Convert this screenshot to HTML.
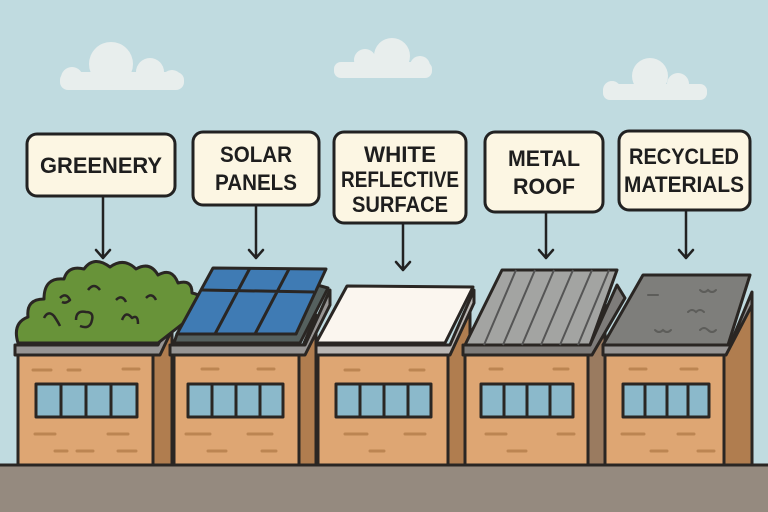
<!DOCTYPE html>
<html><head><meta charset="utf-8"><style>
html,body{margin:0;padding:0;width:768px;height:512px;overflow:hidden;background:#c0dbe0}
svg{display:block}
text{font-family:"Liberation Sans",sans-serif;font-weight:bold;font-size:22px;fill:#1e1e1e;text-anchor:middle}
</style></head><body>
<svg width="768" height="512" viewBox="0 0 768 512">
<rect width="768" height="512" fill="#c0dbe0"/>
<!-- clouds -->
<g fill="#e8eeed">
<rect x="60" y="72" width="124" height="18" rx="8"/>
<circle cx="111" cy="64" r="22"/><circle cx="150" cy="72" r="14"/><circle cx="72" cy="78" r="11"/><circle cx="172" cy="80" r="10"/>
<rect x="334" y="62" width="98" height="16" rx="7"/>
<circle cx="392" cy="56" r="18"/><circle cx="365" cy="60" r="11"/><circle cx="420" cy="66" r="10"/>
<rect x="603" y="84" width="104" height="16" rx="7"/>
<circle cx="650" cy="76" r="18"/><circle cx="678" cy="84" r="11"/><circle cx="612" cy="90" r="9"/><circle cx="700" cy="92" r="7"/>
</g>
<!-- ground -->
<rect x="0" y="465" width="768" height="47" fill="#958a7f"/>
<line x1="0" y1="465" x2="768" y2="465" stroke="#2a2623" stroke-width="3"/>
<g stroke="#2a2623" stroke-width="3" stroke-linejoin="round">
<!-- House 1 -->
<polygon points="153,355 182,295 182,300 172,315 172,465 153,465" fill="#b07d4f"/>
<rect x="18" y="355" width="135" height="110" fill="#dea673"/>
<polygon points="15,345 158,345 185,288 186,300 160,355 15,355" fill="#979594"/>
<path d="M18,343 q-6,-20 10,-26 q-2,-18 16,-18 q0,-22 20,-20 q4,-14 20,-10 q10,-14 26,-2 q14,-10 26,2 q14,-8 22,6 q14,-8 20,8 q14,-4 14,10 q12,2 12,14 L158,343 z" fill="#689339"/>
<g fill="none" stroke-width="2.5"><path d="M60,298 q6,-6 10,2 q-4,4 -8,2 M88,290 q6,-8 12,0 M116,300 q6,-6 10,2 M76,320 q0,-10 10,-8 q8,0 6,8 q-2,10 -12,6 M122,320 q4,-10 10,-2 q6,-4 6,6 M44,318 q4,-8 10,-2 q4,6 6,10 M146,298 q6,-6 10,2"/></g>
<rect x="36" y="384" width="101" height="33" fill="#8bb9cb"/>
<path d="M61,384v33M86,384v33M111,384v33" fill="none"/>
<!-- House 2 -->
<polygon points="299,355 316,315 316,465 299,465" fill="#b07d4f"/>
<rect x="174" y="355" width="125" height="110" fill="#dea673"/>
<polygon points="170,345 305,345 330,290 330,305 305,355 170,355" fill="#979594"/>
<polygon points="174,343 300,343 328,288 310,283 296,334 177,334" fill="#55605e"/>
<polygon points="213,268 326,269 296,334 177,334" fill="#3f7bb4"/>
<path d="M202,290 L314,292 M250,268 L215,334 M289,269 L255,334" fill="none"/>
<rect x="188" y="384" width="95" height="33" fill="#8bb9cb"/>
<path d="M212,384v33M236,384v33M260,384v33" fill="none"/>
<!-- House 3 -->
<polygon points="448,355 470,305 470,465 448,465" fill="#b07d4f"/>
<rect x="318" y="355" width="130" height="110" fill="#dea673"/>
<polygon points="316,345 450,345 474,290 474,303 450,355 316,355" fill="#bab7b4"/>
<polygon points="347,286 473,287 445,343 316,343" fill="#fbf6ef"/>
<rect x="336" y="384" width="95" height="33" fill="#8bb9cb"/>
<path d="M360,384v33M384,384v33M408,384v33" fill="none"/>
<!-- House 4 -->
<polygon points="588,355 605,300 605,465 588,465" fill="#9a7b60"/>
<rect x="465" y="355" width="123" height="110" fill="#dea673"/>
<polygon points="463,345 590,345 617,285 625,298 592,355 463,355" fill="#7e7c7a"/>
<polygon points="502,270 617,270 590,345 465,345" fill="#a3a4a2"/>
<path d="M516,270 L484,345 M535,270 L503,345 M554,270 L522,345 M573,270 L541,345 M592,270 L560,345 M609,270 L578,345" fill="none" stroke="#555" stroke-width="2"/>
<rect x="481" y="384" width="92" height="33" fill="#8bb9cb"/>
<path d="M504,384v33M527,384v33M550,384v33" fill="none"/>
<!-- House 5 -->
<polygon points="724,355 752,300 752,465 724,465" fill="#b07d4f"/>
<rect x="605" y="355" width="119" height="110" fill="#dea673"/>
<polygon points="603,345 730,345 752,292 752,305 726,355 603,355" fill="#979594"/>
<polygon points="643,275 750,275 728,345 603,345" fill="#7e7e7b"/>
<rect x="623" y="384" width="86" height="33" fill="#8bb9cb"/>
<path d="M645,384v33M667,384v33M688,384v33" fill="none"/>
</g>
<g fill="none" stroke="#5d5d5a" stroke-width="2" stroke-linecap="round">
<path d="M648,295h10M700,290q4,4 8,0q4,4 8,0M688,312q4,-4 8,0q4,-4 8,0M655,330q4,4 8,0q4,4 8,0M700,330q4,-4 8,0q4,4 8,0"/>
</g>
<!-- brick marks -->
<g stroke="#bc8552" stroke-width="3" stroke-linecap="round">
<path d="M33,370h18M68,370h12M123,369h16M35,434h20M108,434h20M55,451h12M77,451h16M118,451h18M202,369h16M258,369h16M186,434h24M248,434h24M208,451h18M262,451h14M490,369h12M554,369h14M486,434h20M558,434h16M508,451h18M630,369h16M681,369h16M622,434h22M678,434h16M651,451h16M698,451h16M345,370h14M410,370h14M345,434h22M405,434h20M370,451h14"/>
</g>
<!-- labels -->
<g stroke="#222" stroke-width="3" fill="#fcf6e3">
<rect x="27" y="134" width="148" height="62" rx="10"/>
<rect x="193" y="132" width="126" height="73" rx="10"/>
<rect x="334" y="132" width="132" height="91" rx="10"/>
<rect x="485" y="132" width="118" height="80" rx="10"/>
<rect x="619" y="131" width="131" height="79" rx="10"/>
</g>
<g stroke="#222" stroke-width="2.5" fill="none" stroke-linecap="round" stroke-linejoin="round">
<path d="M103,196V258M96,250l7,8l7,-8"/>
<path d="M256,205V258M249,250l7,8l7,-8"/>
<path d="M403,223V270M396,262l7,8l7,-8"/>
<path d="M546,212V258M539,250l7,8l7,-8"/>
<path d="M686,210V258M679,250l7,8l7,-8"/>
</g>
<g>
<text x="101" y="173" textLength="122" lengthAdjust="spacingAndGlyphs">GREENERY</text>
<text x="256" y="162" textLength="72" lengthAdjust="spacingAndGlyphs">SOLAR</text>
<text x="256" y="190" textLength="82" lengthAdjust="spacingAndGlyphs">PANELS</text>
<text x="400" y="162" textLength="72" lengthAdjust="spacingAndGlyphs">WHITE</text>
<text x="400" y="187" textLength="118" lengthAdjust="spacingAndGlyphs">REFLECTIVE</text>
<text x="400" y="212" textLength="96" lengthAdjust="spacingAndGlyphs">SURFACE</text>
<text x="544" y="166" textLength="72" lengthAdjust="spacingAndGlyphs">METAL</text>
<text x="544" y="194" textLength="62" lengthAdjust="spacingAndGlyphs">ROOF</text>
<text x="684" y="164" textLength="110" lengthAdjust="spacingAndGlyphs">RECYCLED</text>
<text x="684" y="192" textLength="120" lengthAdjust="spacingAndGlyphs">MATERIALS</text>
</g>
</svg>
</body></html>
